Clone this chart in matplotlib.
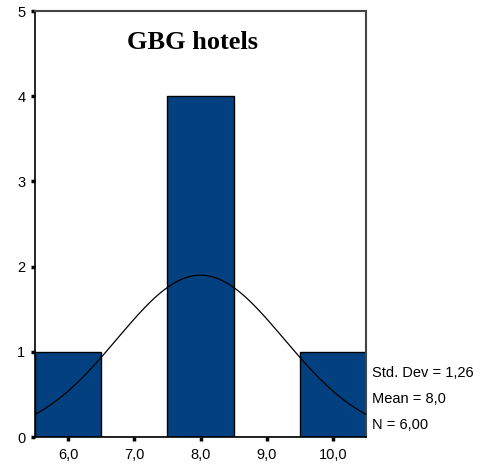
import numpy as np
import matplotlib
matplotlib.use("Agg")
import matplotlib.pyplot as plt

plt.rcParams['font.family'] = ['Liberation Sans', 'DejaVu Sans']

# histogram bins (width 1) and counts
bin_centers = [6.0, 7.0, 8.0, 9.0, 10.0]
counts = [1, 0, 4, 0, 1]
tick_labels = ['6,0', '7,0', '8,0', '9,0', '10,0']

std_dev = 1.26
mean = 8.0
n = 6
bin_width = 1.0

fig = plt.figure(figsize=(4.85, 4.65), dpi=100)
ax = fig.add_axes([0.0722, 0.0602, 0.6825, 0.9161])

ax.bar(bin_centers, counts, width=bin_width, color='#02407F',
       edgecolor='black', linewidth=1.0, zorder=2)

# normal curve scaled to counts
xs = np.linspace(5.5, 10.5, 300)
ys = n * bin_width / (std_dev * np.sqrt(2 * np.pi)) * np.exp(-0.5 * ((xs - mean) / std_dev) ** 2)
ax.plot(xs, ys, color='black', linewidth=0.9, zorder=3)

ax.set_xlim(5.5, 10.5)
ax.set_ylim(0, 5)
ax.set_xticks(bin_centers)
ax.set_xticklabels(tick_labels)
ax.set_yticks([0, 1, 2, 3, 4, 5])
ax.tick_params(axis='both', direction='out', length=3, width=2.5, labelsize=10.5)
ax.tick_params(axis='x', pad=5)
ax.tick_params(axis='y', pad=4)

for side in ['top', 'right']:
    ax.spines[side].set_color('#444444')
    ax.spines[side].set_linewidth(1.5)
for side in ['left', 'bottom']:
    ax.spines[side].set_color('black')
    ax.spines[side].set_linewidth(1.2)

ax.text(0.475, 0.925, 'GBG hotels', transform=ax.transAxes, ha='center', va='center',
        fontsize=19, fontweight='bold', family=['Liberation Serif', 'DejaVu Serif'])

# summary statistics at the right
fig.text(372 / 485, 1 - 373 / 465, 'Std. Dev = 1,26', fontsize=10.5, va='center', ha='left')
fig.text(372 / 485, 1 - 399 / 465, 'Mean = 8,0', fontsize=10.5, va='center', ha='left')
fig.text(372 / 485, 1 - 425 / 465, 'N = 6,00', fontsize=10.5, va='center', ha='left')

fig.savefig('out.png', dpi=100)
